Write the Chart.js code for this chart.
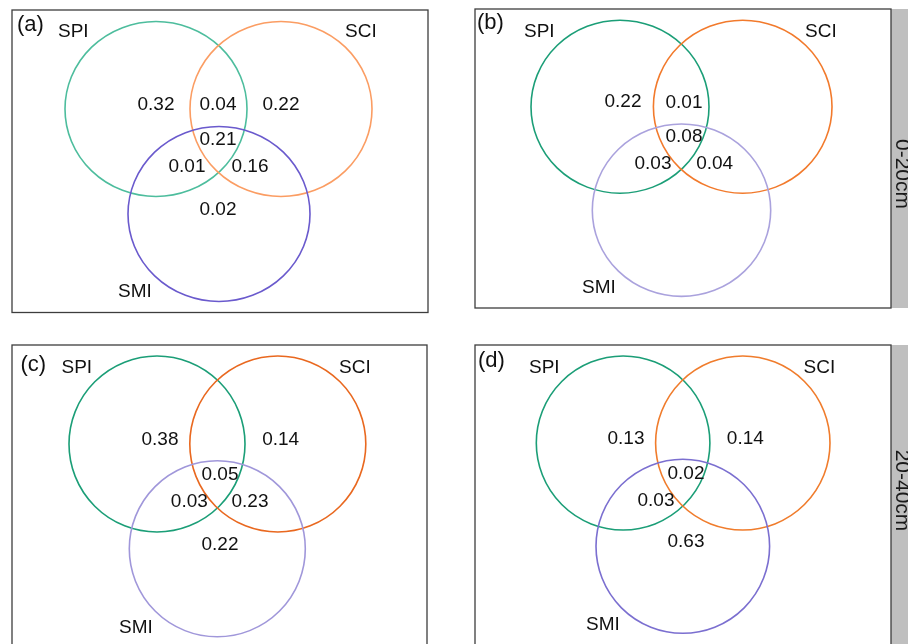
<!DOCTYPE html>
<html>
<head>
<meta charset="utf-8">
<script src="https://cdn.jsdelivr.net/npm/chart.js@4/dist/chart.umd.min.js"></script>
<style>
  html, body { margin:0; padding:0; width:908px; height:644px; overflow:hidden; background:#fff; }
  .wrap { position:absolute; }
  canvas { display:block; }
</style>
</head>
<body>
<div class="wrap" id="wa"><canvas id="ca"></canvas></div>
<div class="wrap" id="wb"><canvas id="cb"></canvas></div>
<div class="wrap" id="wc"><canvas id="cc"></canvas></div>
<div class="wrap" id="wd"><canvas id="cd"></canvas></div>
<script>
// ---------- DATA ----------
const regions = ['SPI only', 'SPI∩SCI', 'SCI only', 'SPI∩SCI∩SMI', 'SPI∩SMI', 'SCI∩SMI', 'SMI only'];
const setNames = ['SPI', 'SCI', 'SMI'];
const panelTags = ['(a)', '(b)', '(c)', '(d)'];
const depthLabels = ['0-20cm', '20-40cm'];
const valuesA = [0.32, 0.04, 0.22, 0.21, 0.01, 0.16, 0.02];
const valuesB = [0.22, 0.01, null, 0.08, 0.03, 0.04, null];
const valuesC = [0.38, null, 0.14, 0.05, 0.03, 0.23, 0.22];
const valuesD = [0.13, null, 0.14, 0.02, 0.03, null, 0.63];

// ---------- LAYOUT (box-relative units) ----------
const PAD = 2, STRIP = 24;
const panels = [
  { canvas:'ca', wrap:'wa', tag:panelTags[0], values:valuesA, depth:null,
    box:{x:12, y:9.5, w:416, h:302.5},
    colors:['#4dbd9d', '#fb9d63', '#6a5acd'],
    circles:[[144,99,91,87.5],[269,99,91,87.5],[207,204,91,87.5]],
    tagPos:[5,21], namePos:[[46,26.5],[333,26.5],[106,287]],
    valPos:[[144,92.5],[206,92.5],[269,92.5],[206,127.5],[175,154.5],[238,154.5],[206,197.5]] },
  { canvas:'cb', wrap:'wb', tag:panelTags[1], values:valuesB, depth:depthLabels[0], depthY:165,
    box:{x:475, y:9.3, w:416, h:299},
    colors:['#1b9e77', '#f27a2c', '#aaa2dd'],
    circles:[[145,97.7,89,86.5],[267.7,97.7,89.3,86.5],[206.5,201.2,89.2,86.2]],
    tagPos:[2,19.5], namePos:[[49,27.7],[330,27.7],[107,283.7]],
    valPos:[[148,91.4],[209,91.7],[267,91.7],[209,125.7],[178,152.7],[239.7,152.7],[206,195]] },
  { canvas:'cc', wrap:'wc', tag:panelTags[2], values:valuesC, depth:null,
    box:{x:12, y:345, w:415, h:302},
    colors:['#1b9e77', '#e9681f', '#a097da'],
    circles:[[145,99,88,88],[265.8,99,88,88],[205.3,203.8,88,88]],
    tagPos:[8.5,25.5], namePos:[[49.5,28],[327,28],[107,287.7]],
    valPos:[[148,93],[208,93],[268.7,93],[208,128.3],[177.3,155.3],[238,155],[208,197.7]] },
  { canvas:'cd', wrap:'wd', tag:panelTags[3], values:valuesD, depth:depthLabels[1], depthY:145.5,
    box:{x:474.7, y:345, w:416, h:302},
    colors:['#1b9e77', '#f07c2c', '#7b6fd0'],
    circles:[[148.1,98,86.8,87],[267.8,98,87.2,87],[207.8,201.3,86.8,87]],
    tagPos:[3,22], namePos:[[54,28],[328.5,28],[111,284.7]],
    valPos:[[151,91.7],[211,91.7],[270.3,91.7],[211,126.7],[181,154],[241,154],[211,195]] }
];

const FONT = '"Liberation Sans", Arial, Helvetica, sans-serif';

const vennPlugin = {
  id: 'venn',
  beforeDraw(chart) {
    const ctx = chart.ctx;
    ctx.save();
    ctx.fillStyle = '#ffffff';
    ctx.fillRect(0, 0, chart.width, chart.height);
    ctx.restore();
  },
  afterDatasetsDraw(chart) {
    const p = chart.options.plugins.venn.panel;
    const ctx = chart.ctx;
    const xs = chart.scales.x, ys = chart.scales.y;
    const a = chart.chartArea;
    ctx.save();
    // strip
    if (p.depth) {
      ctx.fillStyle = '#bfbfbf';
      ctx.fillRect(a.right, a.top, chart.width - a.right, a.bottom - a.top);
      ctx.save();
      ctx.translate(a.right + 4.5, ys.getPixelForValue(p.depthY));
      ctx.rotate(Math.PI / 2);
      ctx.fillStyle = '#1a1a1a';
      ctx.font = '21px ' + FONT;
      ctx.textAlign = 'center';
      ctx.textBaseline = 'alphabetic';
      ctx.fillText(p.depth, 0, 0);
      ctx.restore();
    }
    // circles
    ctx.lineWidth = 1.6;
    p.circles.forEach((c, i) => {
      const cx = xs.getPixelForValue(c[0]);
      const cy = ys.getPixelForValue(c[1]);
      const rx = Math.abs(xs.getPixelForValue(c[0] + c[2]) - cx);
      const ry = Math.abs(ys.getPixelForValue(c[1] + c[3]) - cy);
      ctx.strokeStyle = p.colors[i];
      ctx.beginPath();
      ctx.ellipse(cx, cy, rx, ry, 0, 0, Math.PI * 2);
      ctx.stroke();
    });
    // region values
    ctx.fillStyle = '#111111';
    ctx.font = '19px ' + FONT;
    ctx.textAlign = 'center';
    ctx.textBaseline = 'alphabetic';
    const meta = chart.getDatasetMeta(0);
    meta.data.forEach((pt, i) => {
      const v = p.values[i];
      if (v === null || v === undefined) return;
      ctx.fillText(v.toFixed(2), pt.x, pt.y + 7);
    });
    // set names
    ctx.textAlign = 'left';
    setNames.forEach((n, i) => {
      ctx.fillText(n, xs.getPixelForValue(p.namePos[i][0]), ys.getPixelForValue(p.namePos[i][1]));
    });
    // tag
    ctx.font = '22px ' + FONT;
    ctx.fillText(p.tag, xs.getPixelForValue(p.tagPos[0]), ys.getPixelForValue(p.tagPos[1]));
    // box border
    ctx.strokeStyle = '#3d3d3d';
    ctx.lineWidth = 1.3;
    ctx.strokeRect(a.left, a.top, a.right - a.left, a.bottom - a.top);
    ctx.restore();
  }
};

panels.forEach(p => {
  const extraR = p.depth ? STRIP : PAD;
  const wrap = document.getElementById(p.wrap);
  const cv = document.getElementById(p.canvas);
  const W = Math.round(p.box.w + PAD + extraR);
  const H = Math.round(p.box.h + 2 * PAD);
  wrap.style.left = (p.box.x - PAD) + 'px';
  wrap.style.top = (p.box.y - PAD) + 'px';
  cv.width = W; cv.height = H;
  cv.style.width = W + 'px'; cv.style.height = H + 'px';
  new Chart(cv, {
    type: 'scatter',
    data: {
      labels: regions,
      datasets: [{
        label: 'variance explained',
        data: p.valPos.map(q => ({x:q[0], y:q[1]})),
        pointRadius: 0,
        showLine: false
      }]
    },
    options: {
      responsive: false,
      animation: false,
      devicePixelRatio: 1,
      events: [],
      layout: { padding: { left: PAD, top: PAD, bottom: H - PAD - p.box.h, right: W - PAD - p.box.w } },
      scales: {
        x: { type:'linear', min:0, max:p.box.w, display:false },
        y: { type:'linear', min:0, max:p.box.h, reverse:true, display:false }
      },
      plugins: {
        legend: { display:false },
        tooltip: { enabled:false },
        venn: { panel: p }
      }
    },
    plugins: [vennPlugin]
  });
});
</script>
</body>
</html>
